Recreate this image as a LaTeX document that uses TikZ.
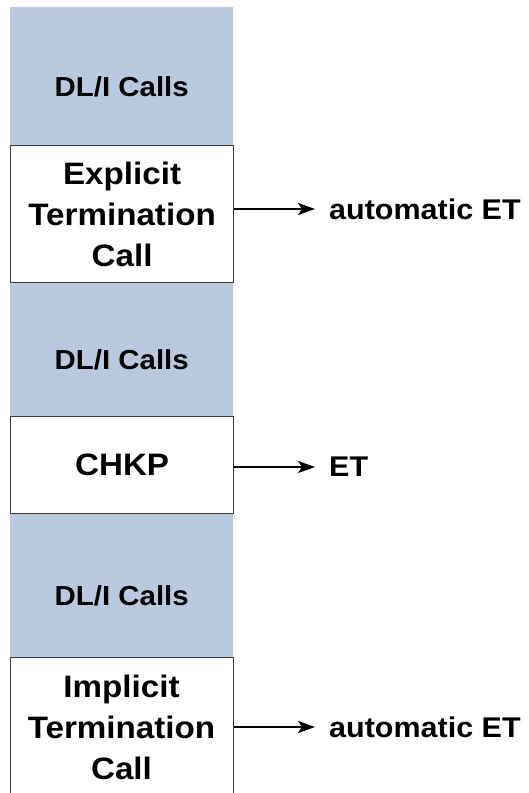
\documentclass[tikz,border=0pt]{standalone}
\usepackage{fontspec}
\setmainfont{Liberation Sans}[FakeStretch=1.07]
\usetikzlibrary{arrows.meta}
\definecolor{callblue}{RGB}{185,202,224}
\definecolor{boxline}{RGB}{60,60,60}
\tikzset{
  dlcall/.style={fill=callblue, draw=none, minimum width=223pt, anchor=north west, inner sep=0pt,
    text height=40pt, text depth=0pt, font=\fontsize{27.5}{32}\selectfont\bfseries},
  callbox/.style={fill=white, draw=boxline, line width=1.2pt, minimum width=223pt, anchor=north west,
    inner sep=0pt, align=center, font=\fontsize{31}{41}\selectfont\bfseries},
  result/.style={anchor=west, inner sep=0pt, font=\fontsize{28.5}{34}\selectfont\bfseries},
  arr/.style={line width=2pt, -{Stealth[length=17pt,width=12pt,inset=4pt]}, shorten >=14pt}
}
\begin{document}
\begin{tikzpicture}[x=1pt,y=-1pt]
\clip (0,0) rectangle (529,793);
\fill[white] (0,0) rectangle (529,793);
\node[dlcall, minimum height=138pt] (dl1) at (10,7) {DL/I Calls};
\node[dlcall, minimum height=134pt] (dl2) at (10,282) {DL/I Calls};
\node[dlcall, minimum height=144pt] (dl3) at (10,513) {DL/I Calls};
\node[dlcall, minimum height=140pt, anchor=north west] (dl4) at (10,657) {};
\node[callbox, minimum height=137pt] (b1) at (10,145) {Explicit\\Termination\\Call};
\node[callbox, minimum height=97pt] (b2) at (10,416) {CHKP};
\node[callbox, minimum height=150pt, anchor=north west] (b3) at (10,657) {};
\node[align=center, font=\fontsize{31}{41}\selectfont\bfseries, inner sep=0pt] (b3t) at (121.5,727) {Implicit\\Termination\\Call};
\node[result] (r1) at (329,209) {automatic ET};
\node[result] (r2) at (329,467) {ET};
\node[result] (r3) at (329,727) {automatic ET};
\draw[arr] (b1.east |- r1.west) -- (r1.west);
\draw[arr] (b2.east |- r2.west) -- (r2.west);
\draw[arr] (b3.east |- r3.west) -- (r3.west);
\end{tikzpicture}
\end{document}
